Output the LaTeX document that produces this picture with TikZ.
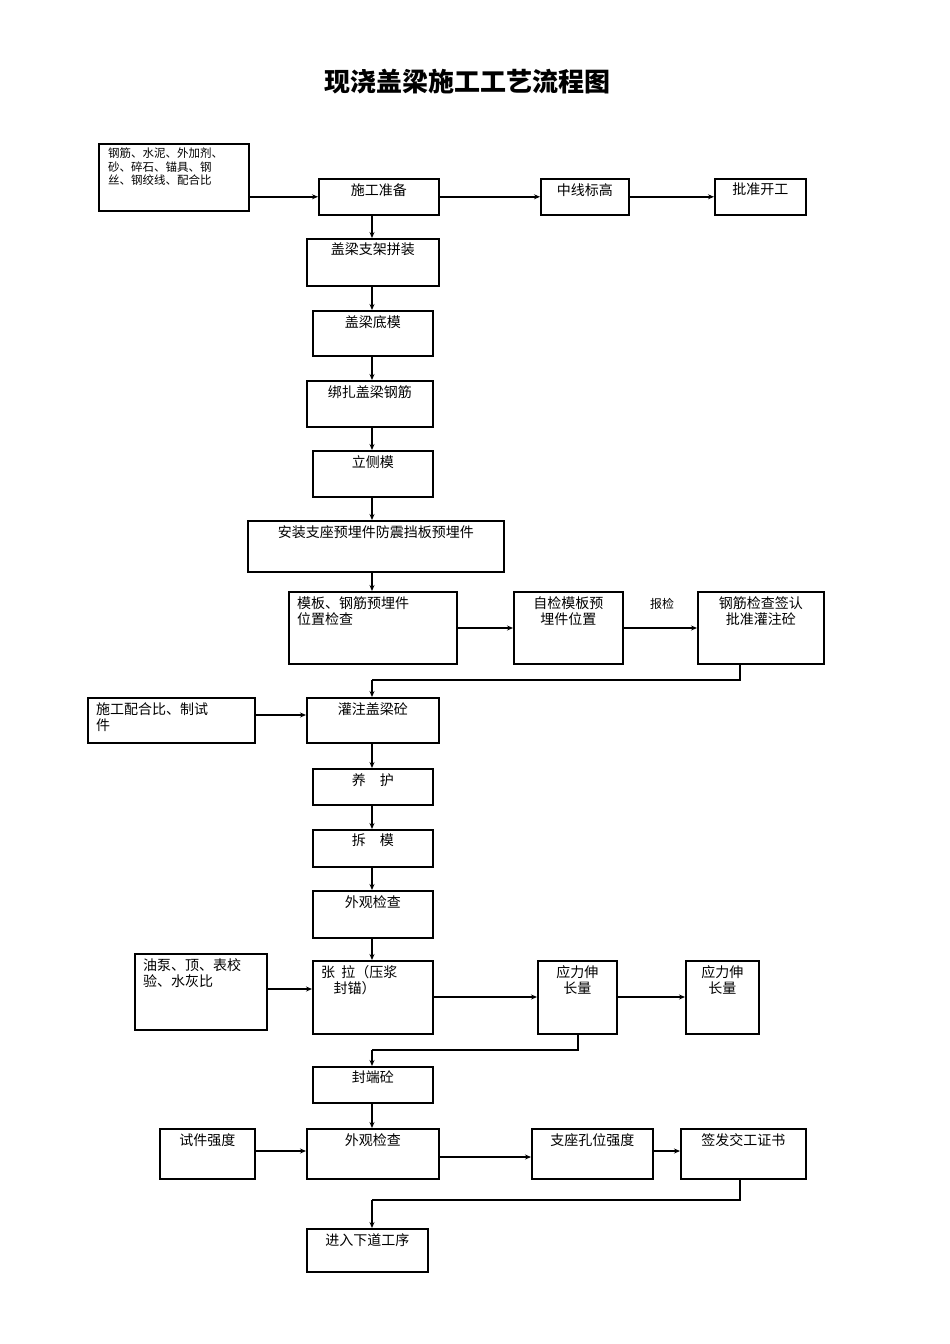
\documentclass[tikz,border=0pt]{standalone}
\usepackage{fontspec}
\setmainfont{Noto Sans CJK SC}
\usetikzlibrary{arrows.meta}
\newcommand{\bx}[6]{%
  \node[box,minimum width={#4-#2},minimum height={#5-#3},anchor=north west] (#1) at (#2,#3) {};
  \node[anchor=north,align=center,inner sep=0pt,font=\fontsize{14}{16}\selectfont] at ([yshift=-5]#1.north) {#6};}
\newcommand{\bxl}[6]{%
  \node[box,minimum width={#4-#2},minimum height={#5-#3},anchor=north west] (#1) at (#2,#3) {};
  \node[anchor=north west,align=left,inner sep=0pt,font=\fontsize{14}{16}\selectfont] at ([xshift=9,yshift=-5]#1.north west) {#6};}
\begin{document}
\begin{tikzpicture}[x=1pt,y=-1pt,
  box/.style={draw,line width=1.6pt,inner sep=0pt},
  arr/.style={line width=1.4pt,-{Stealth[length=6pt,width=5pt]}},
  ln/.style={line width=1.4pt}]
\useasboundingbox (0,0) rectangle (950,1344);
\node[font=\fontsize{26}{28}\bfseries\selectfont] (title) at (467,82) {现浇盖梁施工工艺流程图};
\node[box,minimum width=150,minimum height=67,anchor=north west] (mat) at (98,143) {};
\node[anchor=north west,align=left,inner sep=0pt,font=\fontsize{11.5}{13.5}\selectfont] at (108,148) {钢筋、水泥、外加剂、\\砂、碎石、锚具、钢\\丝、钢绞线、配合比};
\bx{prep}{318}{178}{438}{214}{施工准备}
\bx{mid}{540}{178}{628}{214}{中线标高}
\bx{appr}{714}{178}{805}{214}{批准开工}
\bx{s1}{306}{238}{438}{285}{盖梁支架拼装}
\bx{s2}{312}{310}{432}{355}{盖梁底模}
\bx{s3}{306}{380}{432}{426}{绑扎盖梁钢筋}
\bx{s4}{312}{450}{432}{496}{立侧模}
\bx{s5}{247}{520}{503}{571}{安装支座预埋件防震挡板预埋件}
\bxl{s6}{288}{591}{456}{663}{模板、钢筋预埋件\\位置检查}
\bx{s6b}{513}{591}{622}{663}{自检模板预\\埋件位置}
\bx{s6c}{697}{591}{823}{663}{钢筋检查签认\\批准灌注砼}
\node[font=\fontsize{12}{14}\selectfont] (bj) at (662,604) {报检};
\bx{s7}{306}{697}{438}{742}{灌注盖梁砼}
\bxl{mix}{87}{697}{254}{742}{施工配合比、制试\\件}
\bx{s8}{312}{768}{432}{804}{养\quad 护}
\bx{s9}{312}{829}{432}{866}{拆\quad 模}
\bx{s10}{312}{890}{432}{937}{外观检查}
\bxl{s11}{312}{960}{432}{1033}{张\ \ 拉（压浆\\\ \ \ \ 封锚）}
\bxl{pump}{134}{953}{266}{1029}{油泵、顶、表校\\验、水灰比}
\bx{s11b}{537}{960}{616}{1033}{应力伸\\长量}
\bx{s11c}{685}{960}{758}{1033}{应力伸\\长量}
\bx{s12}{312}{1066}{432}{1102}{封端砼}
\bx{s13}{306}{1128}{438}{1178}{外观检查}
\bx{test}{159}{1128}{254}{1178}{试件强度}
\bx{seat}{531}{1128}{652}{1178}{支座孔位强度}
\bx{cert}{680}{1128}{805}{1178}{签发交工证书}
\bx{s14}{306}{1228}{427}{1271}{进入下道工序}
\coordinate (c1) at (740,680); \coordinate (c2) at (372,680);
\coordinate (d1) at (578,1050); \coordinate (d2) at (372,1050);
\coordinate (e1) at (740,1200); \coordinate (e2) at (372,1200);
\draw[arr] (mat.east|-prep.west) -- (prep.west);
\draw[arr] (prep) -- (mid);
\draw[arr] (mid) -- (appr);
\draw[arr] (prep.south-|372,0) -- (s1.north-|372,0);
\draw[arr] (s1.south-|372,0) -- (s2.north-|372,0);
\draw[arr] (s2.south-|372,0) -- (s3.north-|372,0);
\draw[arr] (s3.south-|372,0) -- (s4.north-|372,0);
\draw[arr] (s4.south-|372,0) -- (s5.north-|372,0);
\draw[arr] (s5.south-|372,0) -- (s6.north-|372,0);
\draw[arr] (s6.east|-0,628) -- (s6b.west|-0,628);
\draw[arr] (s6b.east|-0,628) -- (s6c.west|-0,628);
\draw[ln] (s6c.south-|c1) -- (c1) -- (c2);
\draw[arr] (c2) -- (s7.north-|c2);
\draw[arr] (mix.east|-0,715) -- (s7.west|-0,715);
\draw[arr] (s7.south-|372,0) -- (s8.north-|372,0);
\draw[arr] (s8.south-|372,0) -- (s9.north-|372,0);
\draw[arr] (s9.south-|372,0) -- (s10.north-|372,0);
\draw[arr] (s10.south-|372,0) -- (s11.north-|372,0);
\draw[arr] (pump.east|-0,989) -- (s11.west|-0,989);
\draw[arr] (s11.east|-0,997) -- (s11b.west|-0,997);
\draw[arr] (s11b.east|-0,997) -- (s11c.west|-0,997);
\draw[ln] (s11b.south-|d1) -- (d1) -- (d2);
\draw[arr] (d2) -- (s12.north-|d2);
\draw[arr] (s12.south-|372,0) -- (s13.north-|372,0);
\draw[arr] (test.east|-0,1151) -- (s13.west|-0,1151);
\draw[arr] (s13.east|-0,1157) -- (seat.west|-0,1157);
\draw[arr] (seat.east|-0,1151) -- (cert.west|-0,1151);
\draw[ln] (cert.south-|e1) -- (e1) -- (e2);
\draw[arr] (e2) -- (s14.north-|e2);
\end{tikzpicture}
\end{document}
